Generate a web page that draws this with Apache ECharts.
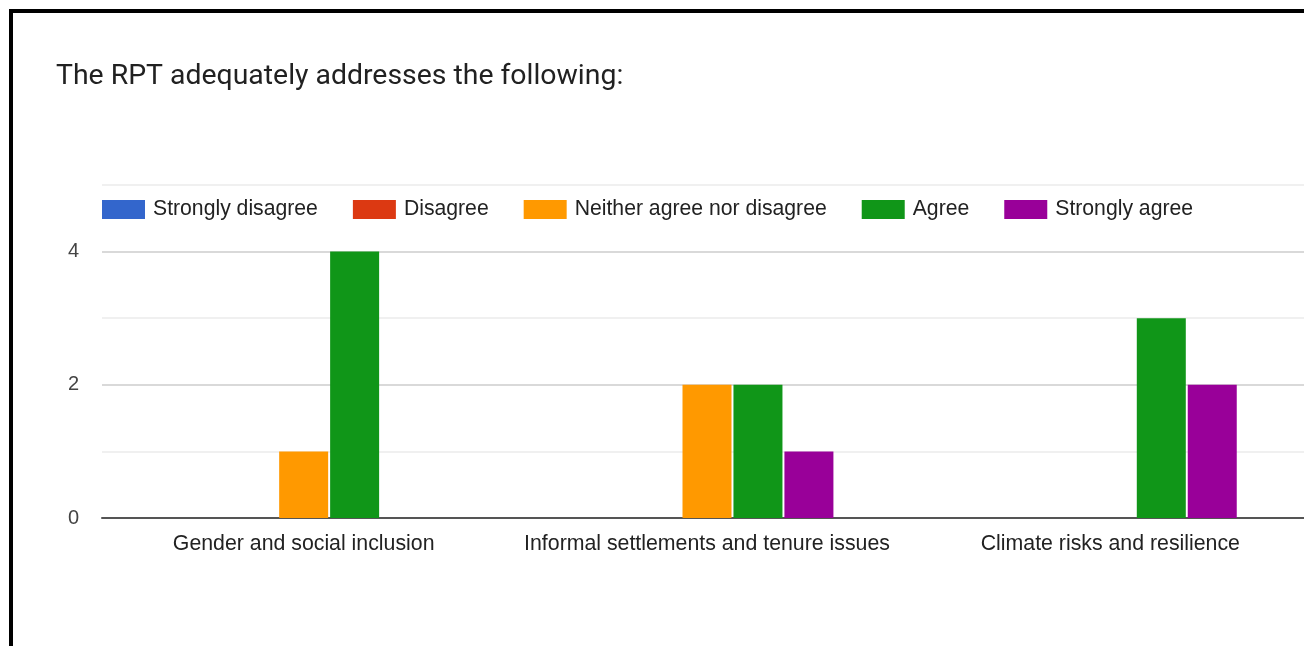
<!DOCTYPE html>
<html>
<head>
<meta charset="utf-8">
<script src="https://cdn.jsdelivr.net/npm/echarts@6/dist/echarts.min.js"></script>
<style>
  html, body { margin: 0; padding: 0; background: #fff; overflow: hidden; }
  #chart { position: absolute; left: 0; top: 0; width: 1320px; height: 646px; }
  #frame {
    position: absolute; left: 9px; top: 9px; width: 1400px; height: 700px;
    border-left: 4px solid #000; border-top: 4px solid #000; pointer-events: none;
  }
</style>
</head>
<body>
<div id="chart"></div>
<div id="frame"></div>
<script>
// Survey responses per topic
const categories = [
  'Gender and social inclusion',
  'Informal settlements and tenure issues',
  'Climate risks and resilience'
];
const responseLevels = ['Strongly disagree', 'Disagree', 'Neither agree nor disagree', 'Agree', 'Strongly agree'];
const stronglyDisagree = [0, 0, 0];
const disagree = [0, 0, 0];
const neitherAgreeNorDisagree = [1, 2, 0];
const agree = [4, 2, 3];
const stronglyAgree = [0, 1, 2];
const levelColors = ['#3366cc', '#dc3912', '#ff9900', '#109618', '#990099'];
const yTickLabels = [0, 2, 4];

const seriesValues = [stronglyDisagree, disagree, neitherAgreeNorDisagree, agree, stronglyAgree];

const chart = echarts.init(document.getElementById('chart'), null, { renderer: 'canvas' });

chart.setOption({
  animation: false,
  title: {
    text: 'The RPT adequately addresses the following:',
    left: 56,
    top: 63,
    padding: 0,
    textStyle: { fontFamily: 'Roboto', fontSize: 28.4, fontWeight: 'normal', color: '#212121' }
  },
  color: levelColors,
  legend: {
    data: responseLevels,
    left: 102,
    top: 199,
    padding: 0,
    icon: 'rect',
    itemWidth: 43,
    itemHeight: 19,
    itemGap: 35,
    textStyle: { fontFamily: 'Liberation Sans', fontSize: 21.2, color: '#222', padding: [0, 0, 0, 3] }
  },
  grid: { left: 102, top: 185, width: 1210, height: 333, containLabel: false },
  xAxis: {
    type: 'category',
    data: categories,
    axisTick: { show: false },
    axisLine: { lineStyle: { color: '#555', width: 2 } },
    axisLabel: { interval: 0, fontFamily: 'Liberation Sans', fontSize: 21.3, color: '#222', margin: 16 }
  },
  yAxis: {
    type: 'value',
    min: 0,
    max: 5,
    interval: 1,
    axisLine: { show: false },
    axisTick: { show: false },
    axisLabel: {
      fontFamily: 'Liberation Sans', fontSize: 20, color: '#444', margin: 23,
      formatter: v => (yTickLabels.indexOf(v) >= 0 ? String(v) : '')
    },
    splitLine: { lineStyle: { color: ['#cccccc', '#ebebeb'], width: 1.5 } }
  },
  series: responseLevels.map((name, i) => ({
    name,
    type: 'bar',
    data: seriesValues[i],
    barWidth: 49,
    barGap: '4%',
    itemStyle: { color: levelColors[i] }
  }))
});
</script>
</body>
</html>
